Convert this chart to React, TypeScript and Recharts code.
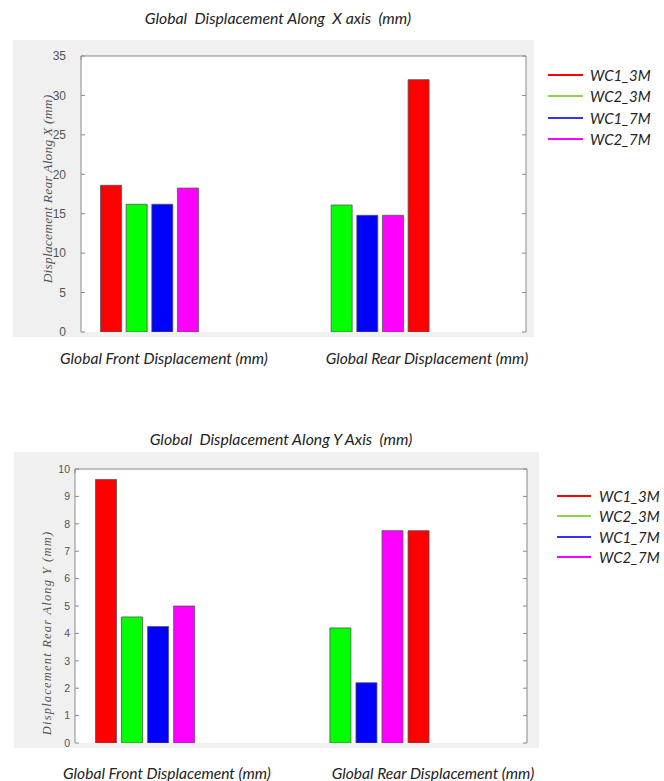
import React from 'react'
import { BarChart, Bar, XAxis, YAxis } from 'recharts'

const categories = ['Global Front Displacement (mm)', 'Global Rear Displacement (mm)']
const seriesNames = ['WC1_3M', 'WC2_3M', 'WC1_7M', 'WC2_7M']
const barColors = ['#ff0000', '#00ff00', '#0000ff', '#ff00ff']
const legendColors = ['#ff0000', '#92d050', '#3333ff', '#ff00ff']

// displacement along X (mm), one value per category
const alongX_WC1_3M = [18.6, 32.0]
const alongX_WC2_3M = [16.2, 16.1]
const alongX_WC1_7M = [16.2, 14.8]
const alongX_WC2_7M = [18.25, 14.8]
const alongXTicks = [0, 5, 10, 15, 20, 25, 30, 35]

// displacement along Y (mm)
const alongY_WC1_3M = [9.62, 7.75]
const alongY_WC2_3M = [4.6, 4.2]
const alongY_WC1_7M = [4.25, 2.2]
const alongY_WC2_7M = [5.0, 7.75]
const alongYTicks = [0, 1, 2, 3, 4, 5, 6, 7, 8, 9, 10]

// matlab-style x ticks (bar slot positions)
const slotTicks = [0, 2, 4, 6, 8, 10, 12, 14, 16]
const slotDomain = [-0.17, 17.18]

// WC1_3M leads the front group but trails the rear group
const buildRows = (a: number[], b: number[], c: number[], d: number[]) =>
  categories.map((name, i) => ({
    name,
    lead: i === 0 ? a[i] : null,
    wc2_3m: b[i],
    wc1_7m: c[i],
    wc2_7m: d[i],
    trail: i === 1 ? a[i] : null,
  }))

const rowsX = buildRows(alongX_WC1_3M, alongX_WC2_3M, alongX_WC1_7M, alongX_WC2_7M)
const rowsY = buildRows(alongY_WC1_3M, alongY_WC2_3M, alongY_WC1_7M, alongY_WC2_7M)

const sans = 'Lato, "Open Sans", sans-serif'
const tickFont = '"Liberation Sans", Arial, sans-serif'
const serif = '"Liberation Serif", "DejaVu Serif", serif'
const boxColor = '#8a8a8a'
const Y_W = 50
const SPILL = 12 // extra svg room under the gray box so the "0" label is not clipped

type Layout = {
  box: { l: number; t: number; r: number; b: number }
  plot: { l: number; t: number; r: number; b: number }
  catPad: [number, number]
  barGap: number
  tickSize: number
  tickMargin: number
  labelX: number
  labelDy: number
  labelSize: number
  labelSpacing: number
}

function DispChart({ rows, yMax, yTicks, yLabel, lay }: { rows: any[]; yMax: number; yTicks: number[]; yLabel: string; lay: Layout }) {
  const { box, plot } = lay
  const keys = ['lead', 'wc2_3m', 'wc1_7m', 'wc2_7m', 'trail']
  const fills = [barColors[0], barColors[1], barColors[2], barColors[3], barColors[0]]
  const empty = () => ''
  const w = box.r - box.l
  const h = box.b - box.t
  const cx = plot.l - box.l - lay.labelX
  const cy = (plot.t + plot.b) / 2 - box.t + lay.labelDy
  const line = { stroke: boxColor, strokeWidth: 1 }
  return (
    <div style={{ position: 'absolute', left: box.l, top: box.t, width: w, height: h, background: '#f0f0f0' }}>
      <div style={{ position: 'absolute', left: plot.l - box.l, top: plot.t - box.t, width: plot.r - plot.l, height: plot.b - plot.t, background: '#fff' }} />
      <div style={{ position: 'absolute', left: 0, top: 0 }}>
        <BarChart
          width={w}
          height={h + SPILL}
          data={rows}
          barSize={21}
          barGap={lay.barGap}
          margin={{ top: plot.t - box.t - 1, bottom: box.b - plot.b - 1 + SPILL, left: plot.l - box.l - Y_W, right: box.r - plot.r - 1 }}
        >
          <XAxis dataKey="name" hide padding={{ left: lay.catPad[0], right: lay.catPad[1] }} />
          <XAxis xAxisId="slots" type="number" domain={slotDomain} ticks={slotTicks} allowDataOverflow
            height={1} tickSize={-4} tickFormatter={empty} axisLine={line} tickLine={line} interval={0} />
          <XAxis xAxisId="top" orientation="top" type="number" domain={slotDomain} ticks={slotTicks} allowDataOverflow
            height={1} tickSize={-4} tickFormatter={empty} axisLine={line} tickLine={line} interval={0} />
          <YAxis
            domain={[0, yMax]}
            ticks={yTicks}
            interval={0}
            allowDataOverflow
            width={Y_W}
            tickSize={-4}
            tickMargin={lay.tickMargin}
            axisLine={line}
            tickLine={line}
            tick={{ fill: '#555', fontSize: lay.tickSize, fontFamily: tickFont }}
            label={() => (
              <text x={cx} y={cy} transform={`rotate(-90 ${cx} ${cy})`} textAnchor="middle" dominantBaseline="central"
                fill="#555" fontSize={lay.labelSize} letterSpacing={lay.labelSpacing} fontStyle="italic" fontFamily={serif}>
                {yLabel}
              </text>
            )}
          />
          <YAxis yAxisId="right" orientation="right" domain={[0, yMax]} ticks={yTicks} interval={0} allowDataOverflow
            width={1} tickSize={-4} tickFormatter={empty} axisLine={line} tickLine={line} />
          {keys.map((k, i) => (
            <Bar key={k} dataKey={k} fill={fills[i]} stroke="#555" strokeWidth={0.8} isAnimationActive={false} />
          ))}
        </BarChart>
      </div>
    </div>
  )
}

function Legend({ x, y, step, lineW, textX }: { x: number; y: number; step: number; lineW: number; textX: number }) {
  return (
    <>
      {seriesNames.map((s, i) => (
        <div key={s} style={{ position: 'absolute', left: x, top: y + i * step - 10, height: 20, width: 120 }}>
          <div style={{ position: 'absolute', left: 0, top: 9, width: lineW, height: 2, background: legendColors[i] }} />
          <div style={{ position: 'absolute', left: textX - x, top: 0, lineHeight: '20px', fontFamily: sans, fontStyle: 'italic', fontSize: 15, color: '#222' }}>{s}</div>
        </div>
      ))}
    </>
  )
}

function CenteredText({ text, cx, cy, size }: { text: string; cx: number; cy: number; size: number }) {
  return (
    <div style={{ position: 'absolute', left: cx - 200, top: cy - 12, width: 400, height: 24, lineHeight: '24px', textAlign: 'center',
      whiteSpace: 'pre', fontFamily: sans, fontStyle: 'italic', fontSize: size, color: '#222' }}>
      {text}
    </div>
  )
}

const layoutX: Layout = {
  box: { l: 13, t: 40, r: 534, b: 337 },
  plot: { l: 81, t: 56, r: 526, b: 332 },
  catPad: [-21.5, 56.5],
  barGap: 4.65,
  tickSize: 12,
  tickMargin: 19,
  labelX: 34,
  labelDy: -5,
  labelSize: 13.5,
  labelSpacing: 0.2,
}

const layoutY: Layout = {
  box: { l: 14, t: 452, r: 539, b: 748 },
  plot: { l: 75, t: 469, r: 527, b: 743 },
  catPad: [-21.5, 56.8],
  barGap: 5.05,
  tickSize: 10.5,
  tickMargin: 9,
  labelX: 28,
  labelDy: 27,
  labelSize: 12.5,
  labelSpacing: 1.2,
}

export default function App() {
  return (
    <div style={{ position: 'absolute', left: 0, top: 0, width: 664, height: 781, background: '#fff', overflow: 'hidden' }}>
      <CenteredText text="Global  Displacement Along  X axis  (mm)" cx={278} cy={18} size={15.8} />
      <DispChart rows={rowsX} yMax={35} yTicks={alongXTicks} yLabel="Displacement Rear Along X (mm)" lay={layoutX} />
      <Legend x={548} y={75} step={21.3} lineW={35} textX={590} />
      <CenteredText text={categories[0]} cx={164} cy={358} size={15.6} />
      <CenteredText text={categories[1]} cx={427} cy={358} size={15.6} />

      <CenteredText text="Global  Displacement Along Y Axis  (mm)" cx={281} cy={439} size={15.8} />
      <DispChart rows={rowsY} yMax={10} yTicks={alongYTicks} yLabel="Displacement Rear Along Y (mm)" lay={layoutY} />
      <Legend x={557} y={496} step={20.4} lineW={34} textX={599} />
      <CenteredText text={categories[0]} cx={167} cy={773} size={15.6} />
      <CenteredText text={categories[1]} cx={433} cy={773} size={15.6} />
    </div>
  )
}
